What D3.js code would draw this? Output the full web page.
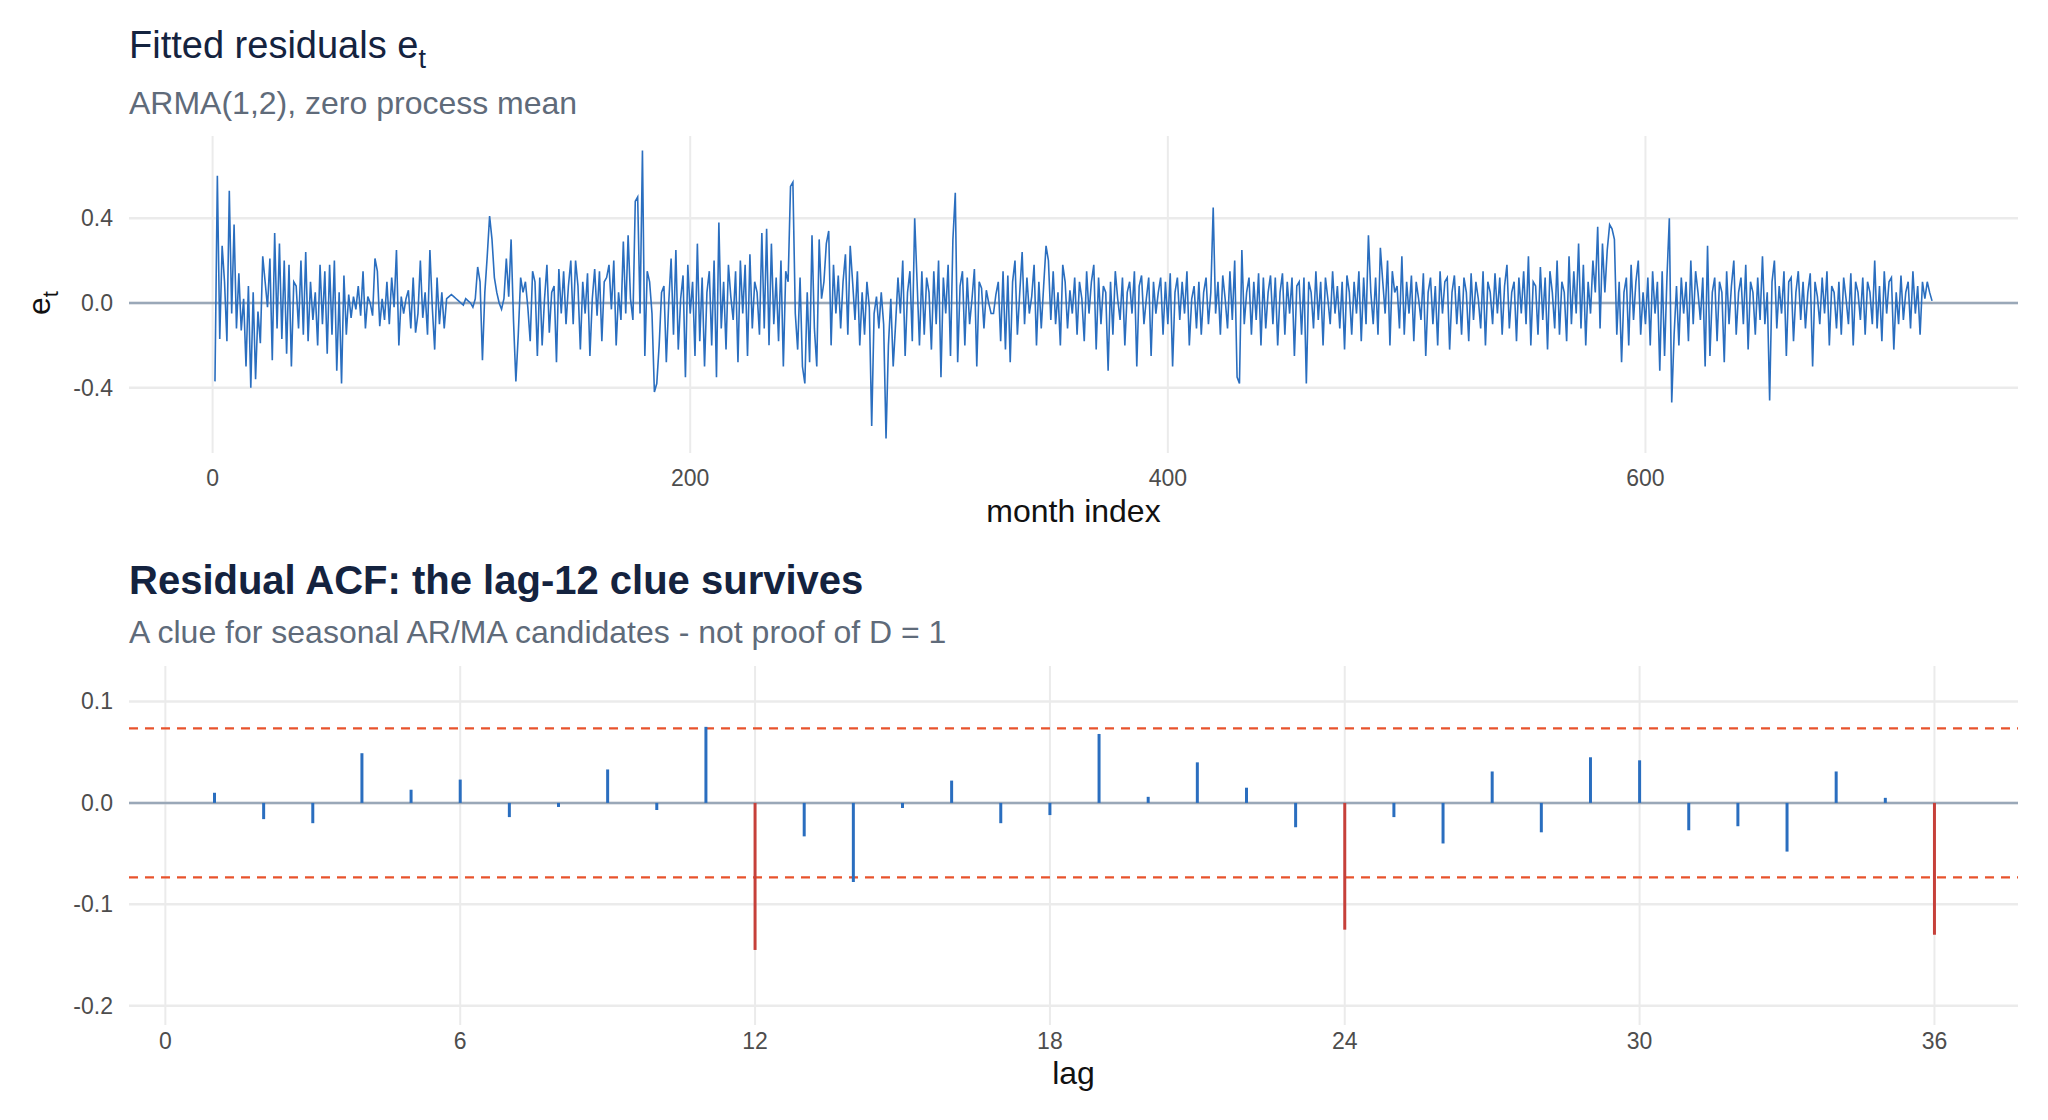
<!DOCTYPE html><html><head><meta charset="utf-8">
<script src="https://cdn.jsdelivr.net/npm/d3@7"></script>
<style>body{margin:0;background:#fff}text{font-family:"Liberation Sans",Arial,sans-serif}</style></head><body>
<svg id="c" width="2048" height="1120"></svg>
<script>
const residuals=[-0.37,0.60,-0.17,0.27,0.10,-0.18,0.53,-0.05,0.37,-0.12,0.14,-0.13,0.02,-0.30,0.08,-0.40,0.05,-0.36,-0.04,-0.19,0.22,0.10,-0.02,0.21,-0.27,0.33,-0.12,0.28,-0.17,0.20,-0.24,0.18,-0.30,0.10,0.08,-0.12,0.20,-0.15,0.24,-0.18,
0.10,-0.08,0.05,-0.20,0.18,-0.10,0.15,-0.24,0.18,-0.15,0.20,-0.32,0.05,-0.38,0.13,-0.15,0.04,-0.07,0.03,-0.03,0.08,-0.06,0.15,-0.12,0.03,0.00,-0.06,0.21,0.15,-0.11,0.02,-0.08,0.10,-0.10,0.12,-0.02,0.25,-0.20,0.03,-0.05,
0.02,0.06,-0.12,0.12,-0.14,-0.05,0.20,-0.07,0.05,-0.15,0.25,-0.02,-0.22,0.12,-0.10,0.05,-0.12,0.02,0.03,0.04,
0.03,0.02,0.01,0.00,-0.01,0.02,0.01,0.00,-0.02,0.02,0.17,0.10,-0.27,0.05,0.22,0.41,0.30,0.12,0.05,0.00,
-0.03,0.02,0.21,0.03,0.30,-0.08,-0.37,-0.15,0.12,0.05,0.10,-0.02,-0.18,0.15,0.10,-0.25,0.12,-0.20,0.02,0.18,
-0.14,0.05,0.08,-0.28,0.16,-0.05,0.15,-0.10,0.08,0.20,-0.10,0.20,0.08,-0.22,0.10,-0.05,0.14,-0.25,0.02,0.16,
-0.06,0.15,-0.18,0.10,0.12,0.18,-0.03,0.20,-0.20,0.05,-0.08,0.29,-0.05,0.32,0.02,-0.08,0.48,0.50,-0.05,0.72,
-0.25,0.15,0.10,-0.05,-0.42,-0.38,-0.20,0.05,0.08,-0.28,0.00,0.21,-0.15,0.25,-0.22,0.02,0.13,-0.35,0.18,-0.05,
0.10,-0.25,0.28,-0.18,0.12,-0.30,0.05,0.15,-0.20,0.20,-0.35,0.38,-0.12,0.10,-0.22,0.18,0.03,-0.08,0.15,-0.28,0.20,-0.05,0.18,-0.25,0.23,-0.12,0.10,0.05,-0.15,0.33,-0.12,0.35,-0.20,0.28,-0.10,0.12,-0.18,0.20,-0.30,0.15,
0.10,0.55,0.57,-0.05,-0.22,0.12,-0.30,-0.38,0.05,-0.28,0.32,-0.12,-0.30,0.30,0.02,0.10,0.28,0.34,-0.20,0.18,-0.05,0.13,-0.12,0.10,0.23,-0.15,0.27,0.10,-0.08,0.15,-0.20,0.05,-0.15,0.10,-0.02,-0.58,-0.05,0.03,-0.12,0.05,
-0.10,-0.64,-0.20,0.02,-0.30,-0.10,0.12,-0.05,0.20,-0.25,0.05,0.15,-0.18,0.40,0.10,-0.20,0.15,-0.15,0.12,0.05,-0.22,0.15,-0.10,0.20,-0.35,0.12,-0.05,0.18,-0.25,0.30,0.52,-0.28,0.08,0.15,-0.20,0.12,-0.10,0.02,0.16,-0.30,
0.10,0.07,-0.12,0.06,0.00,-0.05,-0.05,0.04,0.10,-0.18,0.15,-0.22,0.13,-0.28,0.10,0.20,-0.15,0.05,0.24,-0.10,0.12,-0.05,0.03,0.18,-0.20,0.10,-0.12,0.08,0.27,0.20,-0.08,0.15,-0.10,0.05,-0.20,0.18,0.10,-0.12,0.06,-0.05,
0.12,-0.15,0.10,0.02,-0.18,0.15,-0.05,0.10,0.18,-0.22,0.12,-0.10,0.08,0.05,-0.32,0.10,-0.15,0.15,0.02,-0.08,0.12,-0.20,0.05,0.10,-0.05,0.15,-0.30,0.08,0.13,-0.10,0.02,0.12,-0.25,0.10,-0.05,0.05,0.12,-0.15,0.10,-0.10,
0.14,-0.30,0.05,0.12,-0.08,0.10,-0.05,0.15,-0.20,0.02,0.08,-0.12,0.10,-0.15,0.05,0.12,-0.10,0.05,0.45,-0.05,0.10,-0.15,0.13,0.02,-0.12,0.15,-0.08,0.20,-0.35,-0.38,0.25,-0.10,0.05,0.12,-0.15,0.10,-0.08,0.14,-0.20,0.12,
-0.12,0.05,0.13,-0.10,0.12,-0.20,0.05,0.14,-0.15,0.10,-0.05,0.12,-0.25,0.08,0.10,-0.15,0.12,-0.38,0.10,0.05,-0.12,0.15,-0.08,0.10,-0.20,0.12,0.02,-0.10,0.15,-0.05,0.08,-0.12,0.10,-0.22,0.13,0.05,-0.15,0.10,-0.05,0.15,
-0.18,0.12,-0.10,0.32,0.05,-0.10,0.12,-0.15,0.26,0.10,-0.05,0.20,-0.20,0.15,0.05,0.08,-0.12,0.22,-0.15,0.10,-0.05,0.13,-0.18,0.10,0.02,-0.08,0.14,-0.25,0.05,0.12,-0.10,0.08,-0.20,0.15,-0.05,0.10,0.12,-0.22,0.05,0.13,
-0.10,0.08,-0.15,0.12,0.05,-0.18,0.14,-0.08,0.10,0.02,-0.12,0.15,-0.20,0.10,0.05,-0.10,0.14,-0.05,0.12,-0.15,0.08,0.18,-0.12,0.05,0.10,-0.18,0.12,-0.05,0.15,-0.10,0.22,-0.20,0.10,0.08,-0.15,0.17,-0.08,0.12,-0.22,0.15,
0.05,-0.12,0.20,-0.15,0.10,0.05,-0.18,0.22,-0.10,0.15,-0.05,0.28,-0.12,0.18,-0.20,0.10,-0.05,0.20,0.05,0.36,-0.12,0.28,0.05,0.25,0.37,0.35,0.30,-0.15,0.10,-0.28,0.05,0.12,-0.20,0.18,-0.08,0.10,0.20,-0.15,0.05,-0.10,
0.12,-0.20,0.15,-0.05,0.10,-0.32,0.15,-0.25,0.12,0.40,-0.47,-0.15,0.08,-0.20,0.12,-0.05,0.10,-0.18,0.20,-0.10,0.15,0.05,-0.08,0.12,-0.30,0.27,-0.25,0.05,0.12,-0.18,0.10,0.05,-0.28,0.15,-0.10,0.08,0.20,-0.15,0.05,0.12,
-0.10,0.18,-0.22,0.10,0.05,-0.15,0.12,-0.08,0.22,-0.10,0.05,-0.46,0.10,0.20,-0.12,0.08,-0.05,0.15,-0.25,0.10,0.12,-0.18,0.05,0.15,-0.08,0.10,-0.12,0.05,0.14,-0.30,0.10,0.03,-0.10,0.12,-0.05,0.15,-0.20,0.08,0.05,-0.12,
0.10,-0.15,0.12,0.02,-0.10,0.14,-0.20,0.10,0.05,-0.08,0.12,-0.15,0.10,0.05,-0.10,0.20,-0.12,0.08,-0.18,0.15,-0.05,0.10,0.12,-0.22,0.05,-0.10,0.13,-0.08,0.05,0.10,-0.12,0.15,-0.05,0.08,-0.15,0.10,0.02,0.10,0.05,0.01];
const lags=d3.range(1,37);
const acfValues=[0.010,-0.016,-0.020,0.049,0.013,0.023,-0.014,-0.004,0.033,-0.007,0.075,-0.145,-0.033,-0.078,-0.005,0.022,-0.020,-0.012,0.068,0.006,0.040,0.015,-0.024,-0.125,-0.014,-0.040,0.031,-0.029,0.045,0.042,-0.027,-0.023,-0.048,0.031,0.005,-0.130];
const seasonalLags=[12,24,36];
const bound=0.0735;
const topXTicks=[0,200,400,600], topYTicks=[-0.4,0,0.4];
const acfXTicks=[0,6,12,18,24,30,36], acfYTicks=[-0.2,-0.1,0,0.1];

const svg=d3.select("#c");
const L=129,R=2018,grid="#ebebeb",tick="#4d4d4d",navy="#14233f",sub="#5f6b7a";
function title(y,t,bold){return svg.append("text").attr("x",L).attr("y",y).attr("fill",navy).attr("font-size",bold?40:38).attr("font-weight",bold?"bold":"normal").text(t);}
// top panel
const t1=title(58,"Fitted residuals e",false);
t1.append("tspan").attr("font-size",27).attr("dy",10).text("t");
svg.append("text").attr("x",L).attr("y",114).attr("fill",sub).attr("font-size",32).text("ARMA(1,2), zero process mean");
const x1=d3.scaleLinear().domain([-35,756]).range([L,R]);
const y1=d3.scaleLinear().domain([-0.708,0.788]).range([453,136]);
const g1=svg.append("g");
topXTicks.forEach(v=>g1.append("line").attr("x1",x1(v)).attr("x2",x1(v)).attr("y1",136).attr("y2",453).attr("stroke",grid).attr("stroke-width",2));
topYTicks.forEach(v=>g1.append("line").attr("x1",L).attr("x2",R).attr("y1",y1(v)).attr("y2",y1(v)).attr("stroke",grid).attr("stroke-width",2.5));
g1.append("line").attr("x1",L).attr("x2",R).attr("y1",y1(0)).attr("y2",y1(0)).attr("stroke","#9aa8b8").attr("stroke-width",2.5);
g1.append("path").datum(residuals).attr("fill","none").attr("stroke","#2a6ebf").attr("stroke-width",1.6)
 .attr("d",d3.line().x((d,i)=>x1(i+1)).y(d=>y1(d)));
topXTicks.forEach(v=>g1.append("text").attr("x",x1(v)).attr("y",486).attr("text-anchor","middle").attr("fill",tick).attr("font-size",23).text(v));
topYTicks.forEach(v=>g1.append("text").attr("x",L-16).attr("y",y1(v)+8).attr("text-anchor","end").attr("fill",tick).attr("font-size",23).text(v.toFixed(1)));
svg.append("text").attr("x",(L+R)/2).attr("y",522).attr("text-anchor","middle").attr("font-size",32).attr("fill","#111").text("month index");
const yl=svg.append("text").attr("transform",`translate(50,${y1(0)}) rotate(-90)`).attr("text-anchor","middle").attr("font-size",32).attr("fill","#111").text("e");
yl.append("tspan").attr("font-size",22).attr("dy",8).text("t");
// bottom panel
title(594,"Residual ACF: the lag-12 clue survives",true);
svg.append("text").attr("x",L).attr("y",643).attr("fill",sub).attr("font-size",32).text("A clue for seasonal AR/MA candidates - not proof of D = 1");
const x2=d3.scaleLinear().domain([-0.74,37.7]).range([L,R]);
const y2=d3.scaleLinear().domain([-0.219,0.135]).range([1025,666]);
const g2=svg.append("g");
acfXTicks.forEach(v=>g2.append("line").attr("x1",x2(v)).attr("x2",x2(v)).attr("y1",666).attr("y2",1025).attr("stroke",grid).attr("stroke-width",2));
acfYTicks.forEach(v=>g2.append("line").attr("x1",L).attr("x2",R).attr("y1",y2(v)).attr("y2",y2(v)).attr("stroke",grid).attr("stroke-width",2.5));
g2.append("line").attr("x1",L).attr("x2",R).attr("y1",y2(0)).attr("y2",y2(0)).attr("stroke","#9aa8b8").attr("stroke-width",2.5);
[bound,-bound].forEach(b=>g2.append("line").attr("x1",L).attr("x2",R).attr("y1",y2(b)).attr("y2",y2(b)).attr("stroke","#e8532c").attr("stroke-width",2.2).attr("stroke-dasharray","9,7"));
g2.selectAll(".s").data(lags).enter().append("line").attr("x1",d=>x2(d)).attr("x2",d=>x2(d)).attr("y1",y2(0)).attr("y2",(d,i)=>y2(acfValues[i]))
 .attr("stroke",d=>seasonalLags.includes(d)?"#c6403a":"#2a6ebf").attr("stroke-width",3);
acfXTicks.forEach(v=>g2.append("text").attr("x",x2(v)).attr("y",1049).attr("text-anchor","middle").attr("fill",tick).attr("font-size",23).text(v));
acfYTicks.forEach(v=>g2.append("text").attr("x",L-16).attr("y",y2(v)+8).attr("text-anchor","end").attr("fill",tick).attr("font-size",23).text(v.toFixed(1)));
svg.append("text").attr("x",(L+R)/2).attr("y",1084).attr("text-anchor","middle").attr("font-size",32).attr("fill","#111").text("lag");
</script></body></html>
